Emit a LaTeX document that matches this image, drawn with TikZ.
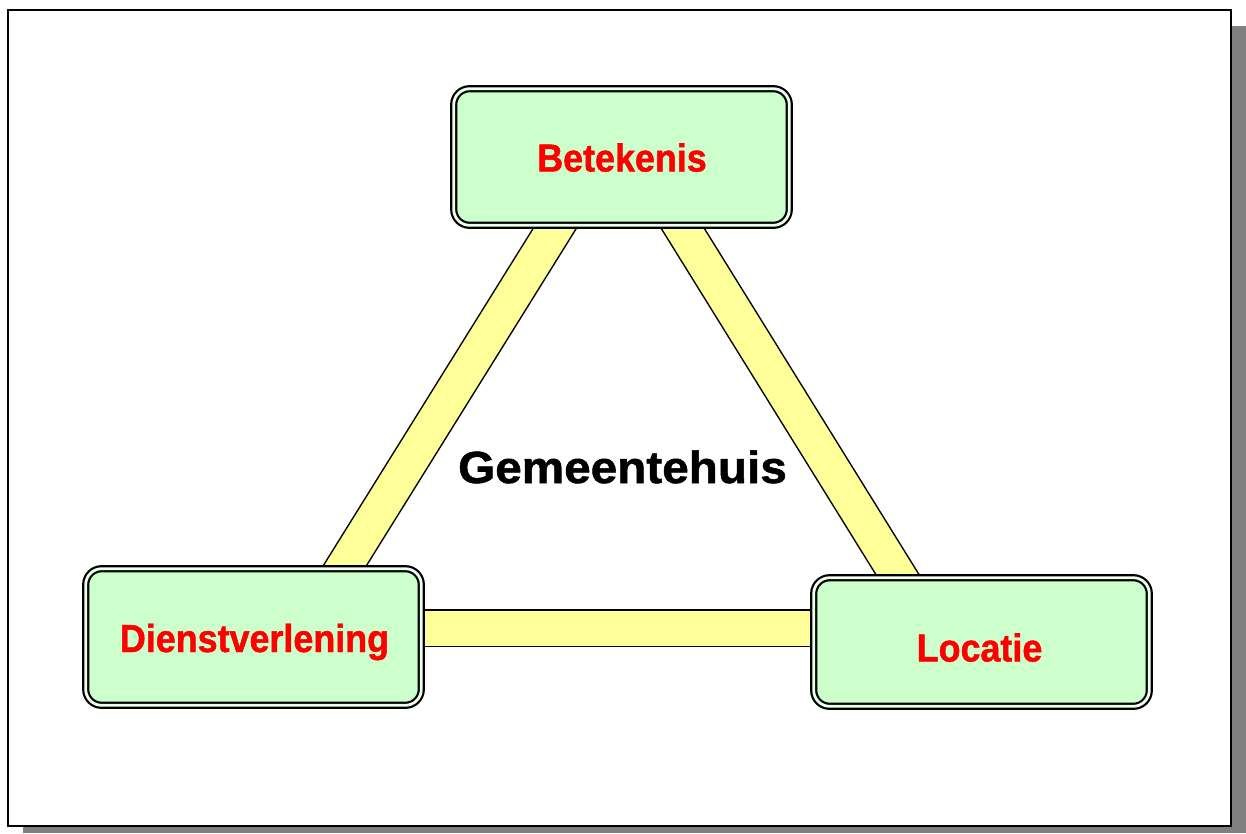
\documentclass[tikz,border=0pt]{standalone}
\usepackage{fontspec}
\newfontfamily\labfont{Liberation Sans}[FakeStretch=0.92,BoldFeatures={FakeBold=1.2}]
\newfontfamily\titfont{Liberation Sans}[FakeStretch=1.06,BoldFeatures={FakeBold=1.2}]
\usetikzlibrary{calc,backgrounds}
\definecolor{boxfill}{HTML}{CCFFCC}
\definecolor{boxgap}{HTML}{EEFFEE}
\definecolor{barfill}{HTML}{FFFF99}
\definecolor{shadowgray}{HTML}{808080}
\definecolor{labred}{HTML}{FF0000}
\begin{document}
\begin{tikzpicture}[x=1pt,y=-1pt,
  box/.style={draw=black, line width=2.2pt, double=boxgap, double distance=2.8pt,
    fill=boxfill, rounded corners=16pt, minimum width=335.6pt, inner sep=0pt},
  lab/.style={anchor=base, text=labred, font=\labfont\bfseries\fontsize{39}{39}\selectfont, inner sep=0pt},
  title/.style={anchor=base, text=black, font=\titfont\bfseries\fontsize{45}{45}\selectfont, inner sep=0pt},
  baredge/.style={draw=black, line width=38pt},
  barcore/.style={draw=barfill, line width=35pt}
]
\useasboundingbox (0,0) rectangle (1246,833);
\begin{scope}[on background layer]
  \fill[shadowgray] (23,26) rectangle (1246,833);
  \draw[line width=2pt, fill=white] (8,10) rectangle (1231,826);
\end{scope}

\node[box, minimum height=136.6pt] (bet) at (621.5,157) {};
\node[box, minimum height=136.6pt] (dien) at (253.5,637) {};
\node[box, minimum height=128.6pt] (loc) at (981.5,642) {};

\node[lab] (tbet) at (622,171.5) {Betekenis};
\node[lab] (tdien) at (254.5,652) {Dienstverlening};
\node[lab] (tloc) at (979.5,661.5) {Locatie};
\node[title] (tgem) at (622.5,483) {Gemeentehuis};

\coordinate (l1) at ($(bet.center)+(-66.5,71)$);
\coordinate (l2) at ($(dien.center)+(90.5,-70)$);
\coordinate (r1) at ($(bet.center)+(61,71)$);
\coordinate (r2) at ($(loc.center)+(-82.5,-65)$);
\coordinate (b1) at ($(dien.center)+(171.5,-9)$);
\coordinate (b2) at ($(loc.center)+(-171.5,-14)$);

\begin{scope}[on background layer]
  \foreach \a/\b in {l1/l2, r1/r2, b1/b2} {
    \draw[baredge] ($(\a)!-25pt!(\b)$) -- ($(\b)!-25pt!(\a)$);
    \draw[barcore] ($(\a)!-25pt!(\b)$) -- ($(\b)!-25pt!(\a)$);
  }
\end{scope}
\end{tikzpicture}
\end{document}
